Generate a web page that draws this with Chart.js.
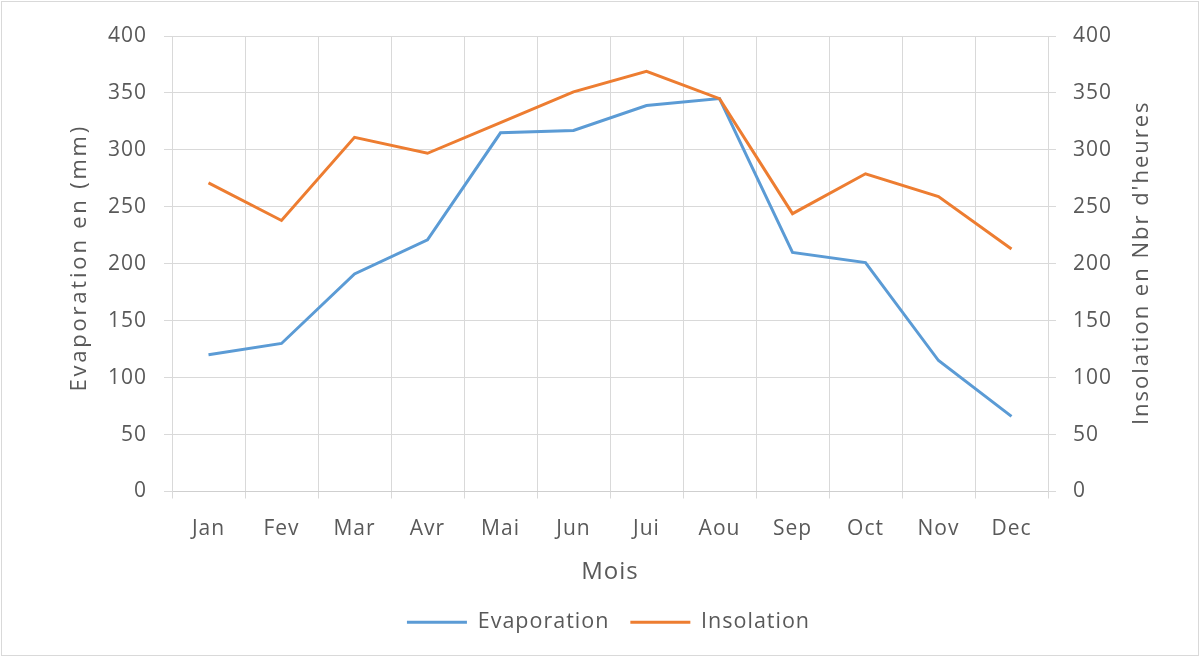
<!DOCTYPE html>
<html lang="fr">
<head>
<meta charset="utf-8">
<title>Evaporation et insolation</title>
<script src="https://cdn.jsdelivr.net/npm/chart.js@4/dist/chart.umd.min.js"></script>
<style>
  html, body { margin: 0; padding: 0; background: #fff; }
  #wrap { position: relative; width: 1201px; height: 659px; }
</style>
</head>
<body>
<div id="wrap"><canvas id="chart" width="1201" height="659"></canvas></div>
<script>
// Monthly values
const months = ['Jan', 'Fev', 'Mar', 'Avr', 'Mai', 'Jun', 'Jui', 'Aou', 'Sep', 'Oct', 'Nov', 'Dec'];
const evaporation = [120, 130, 191, 221, 315, 317, 339, 345, 210, 201, 115, 66];
const insolation = [271, 238, 311, 297, 324, 351, 369, 345, 244, 279, 259, 213];
const yTicks = [0, 50, 100, 150, 200, 250, 300, 350, 400];

const TEXT = '#595959';
const GRID = '#d9d9d9';
const FONT = 'Open Sans';

// slightly loose text, like the Office look
const spacing = {
    id: 'spacing',
    beforeLayout(chart) { chart.ctx.letterSpacing = '1px'; },
    beforeDraw(chart) { chart.ctx.letterSpacing = '1px'; }
};

// white background + thin frame
const frame = {
    id: 'frame',
    beforeDraw(chart) {
        const { ctx, width, height } = chart;
        ctx.save();
        ctx.fillStyle = '#fff';
        ctx.fillRect(0, 0, width, height);
        ctx.strokeStyle = GRID;
        ctx.lineWidth = 1;
        ctx.strokeRect(1.5, 1.5, width - 4, height - 5);
        ctx.restore();
    }
};

// both vertical titles read bottom-to-top
function drawVerticalTitle(ctx, text, x, y, gap) {
    ctx.save();
    ctx.font = `22px "${FONT}"`;
    ctx.letterSpacing = gap + 'px';
    ctx.fillStyle = TEXT;
    ctx.textAlign = 'center';
    ctx.textBaseline = 'middle';
    ctx.translate(x, y);
    ctx.rotate(-Math.PI / 2);
    ctx.fillText(text, 0, 0);
    ctx.restore();
}

const axisTitles = {
    id: 'axisTitles',
    afterDraw(chart) {
        const { ctx, chartArea } = chart;
        const mid = (chartArea.top + chartArea.bottom) / 2;
        drawVerticalTitle(ctx, 'Evaporation en (mm)', 80, mid - 6, 2.8);
        drawVerticalTitle(ctx, "Insolation en Nbr d'heures", 1142, mid - 1, 2);
    }
};

const yScale = (side) => ({
    type: 'linear',
    position: side,
    min: 0,
    max: 400,
    afterBuildTicks: s => { s.ticks = yTicks.map(v => ({ value: v })); },
    afterFit: s => { s.width = side === 'left' ? 156 : 153; },
    ticks: { color: TEXT, font: { family: FONT, size: 21 }, padding: 17 },
    grid: {
        color: GRID,
        tickColor: GRID,
        tickLength: 8,
        drawOnChartArea: side === 'left'
    },
    border: { color: GRID }
});

new Chart(document.getElementById('chart'), {
    type: 'line',
    data: {
        labels: months,
        datasets: [
            {
                label: 'Evaporation',
                data: evaporation,
                yAxisID: 'y',
                borderColor: '#5b9bd5',
                backgroundColor: '#5b9bd5',
                borderWidth: 3,
                pointRadius: 0,
                tension: 0,
                order: 1
            },
            {
                label: 'Insolation',
                data: insolation,
                yAxisID: 'y1',
                borderColor: '#ed7d31',
                backgroundColor: '#ed7d31',
                borderWidth: 3,
                pointRadius: 0,
                tension: 0,
                order: 0
            }
        ]
    },
    options: {
        responsive: false,
        animation: false,
        layout: { padding: { left: 16, right: 0, top: 36, bottom: 16 } },
        scales: {
            x: {
                offset: true,
                afterFit: s => { s.height = 99; },
                ticks: { color: TEXT, font: { family: FONT, size: 21 }, padding: 18, maxRotation: 0, autoSkip: false },
                grid: { offset: true, color: GRID, tickColor: GRID, tickLength: 7 },
                border: { color: '#cfcfcf' },
                title: { display: true, text: 'Mois', color: TEXT, font: { family: FONT, size: 24 }, padding: { top: 0, bottom: 4 } }
            },
            y: yScale('left'),
            y1: yScale('right')
        },
        plugins: {
            legend: {
                position: 'bottom',
                labels: {
                    color: TEXT,
                    font: { family: FONT, size: 21.5 },
                    usePointStyle: true,
                    pointStyle: 'line',
                    pointStyleWidth: 60,
                    padding: 21,
                    sort: (a, b) => a.datasetIndex - b.datasetIndex
                }
            },
            tooltip: { enabled: false }
        }
    },
    plugins: [spacing, frame, axisTitles]
});
</script>
</body>
</html>
